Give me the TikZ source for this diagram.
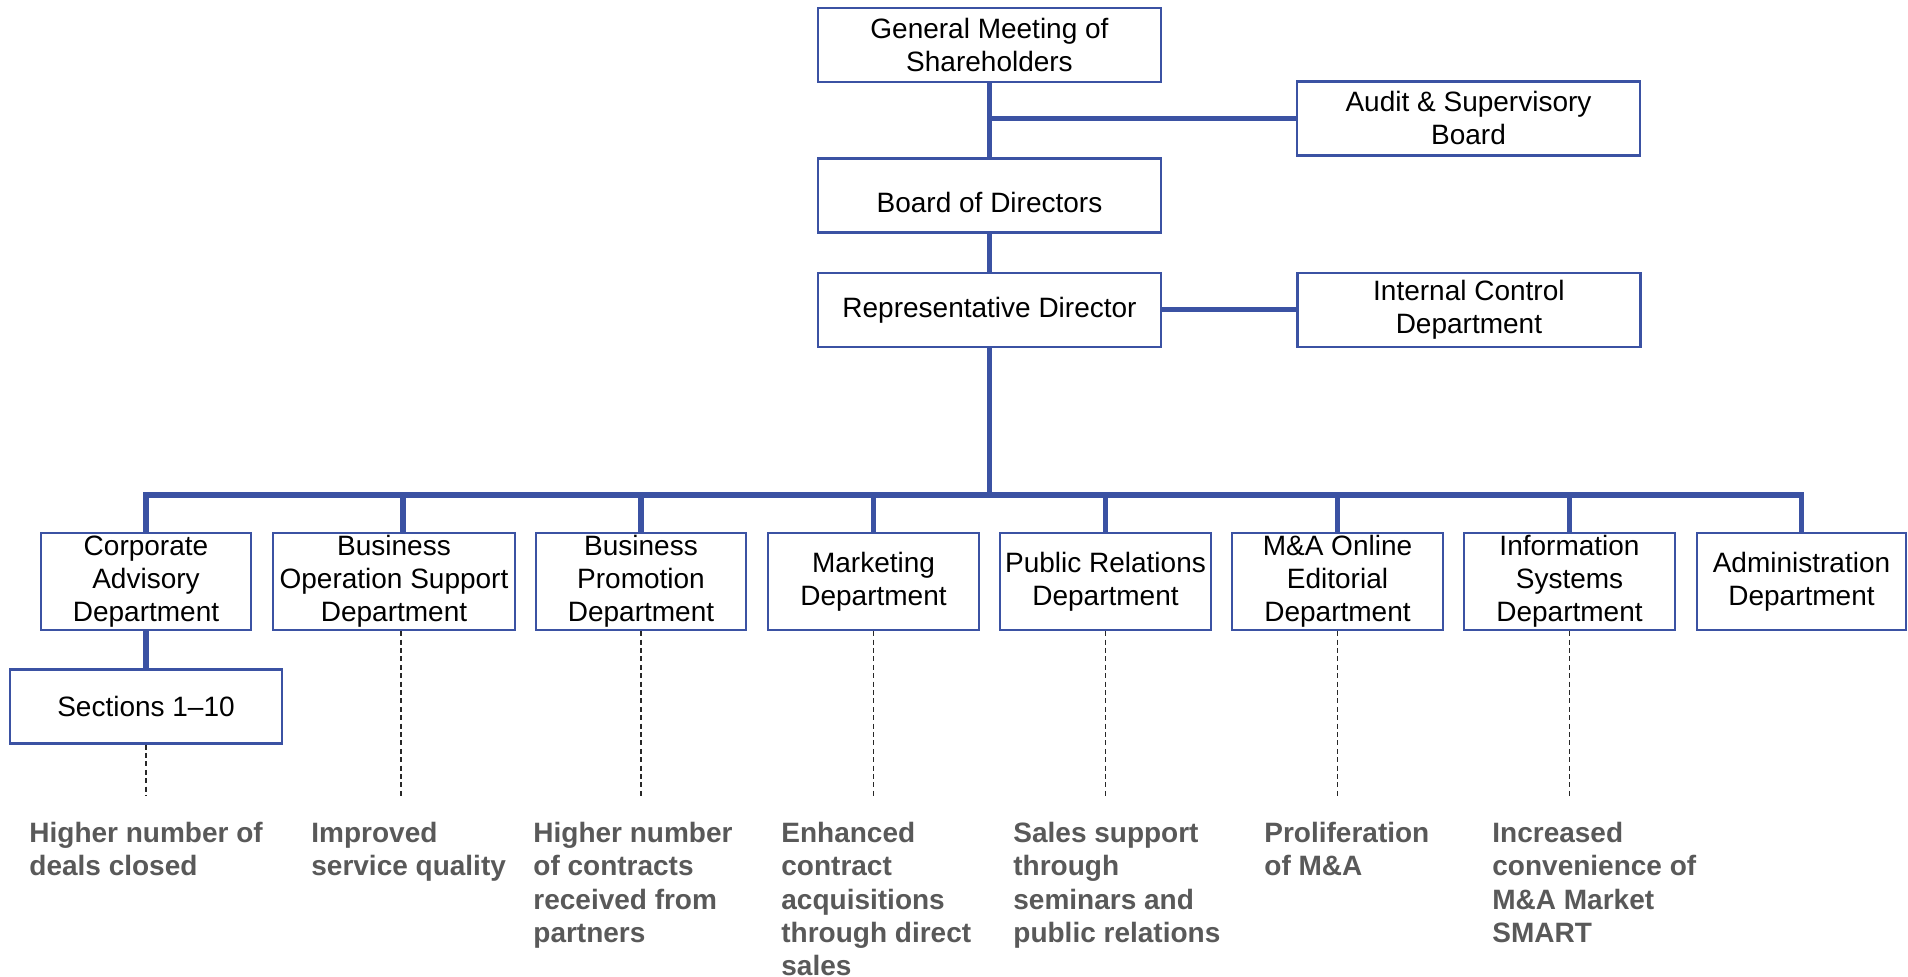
\documentclass[tikz,border=0pt]{standalone}
\usepackage{fontspec}
\setmainfont{Liberation Sans}
\usepackage{tikz}
\usetikzlibrary{positioning}
\definecolor{OrgBlue}{RGB}{59,82,163}
\definecolor{NoteGray}{RGB}{89,89,89}
\definecolor{LeaderGray}{RGB}{40,40,40}

\begin{document}
\begin{tikzpicture} [x=0.5pt, y=-0.5pt, OrgBlue,
	   every node/.style={font=\fontsize{14}{16.5}\selectfont, text=black},
	   orgbox/.style 2 args = {rectangle, draw=OrgBlue, line width=1.2pt,
	                           minimum width=#1, minimum height=#2,
	                           align=center, inner sep=1pt},
	   link/.style = {line width=2.6pt},
	   leader/.style = {LeaderGray, line width=0.8pt, dash pattern=on 2.5pt off 1.7pt},
	   outcome/.style = {anchor=north west, align=left, inner sep=0pt, text=NoteGray,
	                     font=\fontsize{14}{16.6}\selectfont\bfseries}]
	\useasboundingbox (0,0) rectangle (1908,977);

	%% Governing bodies
	\node [orgbox={171.5pt}{37pt}] (gm) at (989.5,45) {General Meeting of\\Shareholders};
	\node [orgbox={171.5pt}{37pt},below=37pt of gm,
	       label={[yshift=-3.5pt]center:Board of Directors}] (bod) {};
	\node [orgbox={171.5pt}{37pt},below=19pt of bod] (rd) {Representative Director};
	\node [orgbox={171.5pt}{37pt}] (audit) at (1468.5,118.5) {Audit \& Supervisory\\Board};
	\node [orgbox={171.5pt}{37pt},right=67pt of rd] (ic) {Internal Control\\Department};

	%% Departments
	\coordinate (busy) at (0,495);
	\node [orgbox={105pt}{48.5pt}] (corp) at (146,581.5) {Corporate\\Advisory\\Department};
	\node [orgbox={121pt}{48.5pt}] (bos) at (394,581.5) {Business\\Operation Support\\Department};
	\node [orgbox={105pt}{48.5pt}] (bp) at (641,581.5) {Business\\Promotion\\Department};
	\node [orgbox={105.5pt}{48.5pt}] (mkt) at (873.5,581.5) {Marketing\\Department};
	\node [orgbox={105.5pt}{48.5pt}] (pr) at (1105.5,581.5) {Public Relations\\Department};
	\node [orgbox={105.5pt}{48.5pt}] (ma) at (1337.5,581.5) {M\&A Online\\Editorial\\Department};
	\node [orgbox={105.5pt}{48.5pt}] (is) at (1569.5,581.5) {Information\\Systems\\Department};
	\node [orgbox={104.5pt}{48.5pt}] (admin) at (1801.5,581.5) {Administration\\Department};
	\node [orgbox={136pt}{37pt},below=18.5pt of corp] (sec) {Sections 1--10};

	%% Outcomes
	\coordinate (outy) at (0,796);
	\node [outcome] (deals) at (29,822) {Higher number of\\deals closed};
	\node [outcome] (quality) at (311,822) {Improved\\service quality};
	\node [outcome] (contracts) at (533,822) {Higher number\\of contracts\\received from\\partners};
	\node [outcome] (acquis) at (781,822) {Enhanced\\contract\\acquisitions\\through direct\\sales};
	\node [outcome] (seminars) at (1013,822) {Sales support\\through\\seminars and\\public relations};
	\node [outcome] (prolif) at (1264,822) {Proliferation\\of M\&A};
	\node [outcome] (smart) at (1492,822) {Increased\\convenience of\\M\&A Market\\SMART};

	%% Reporting lines
	\draw [link] (gm) -- (bod);
	\draw [link] (gm.south |- audit.west) -- (audit.west);
	\draw [link] (bod) -- (rd);
	\draw [link] (rd) -- (ic);
	\draw [link] (rd.south) -- (rd.south |- busy);
	\draw [link] (corp.north) |- (admin.north |- busy) -- (admin.north);
	\draw [link] ([xshift=4.5pt]bos.north) -- ([xshift=4.5pt]bos.north |- busy);
	\draw [link] (bp.north) -- (bp.north |- busy);
	\draw [link] (mkt.north) -- (mkt.north |- busy);
	\draw [link] (pr.north) -- (pr.north |- busy);
	\draw [link] (ma.north) -- (ma.north |- busy);
	\draw [link] (is.north) -- (is.north |- busy);
	\draw [link] (corp) -- (sec);

	%% Leaders to outcomes
	\draw [leader] (sec.south) -- (sec.south |- outy);
	\draw [leader] ([xshift=3.5pt]bos.south) -- ([xshift=3.5pt]bos.south |- outy);
	\draw [leader] (bp.south) -- (bp.south |- outy);
	\draw [leader] (mkt.south) -- (mkt.south |- outy);
	\draw [leader] (pr.south) -- (pr.south |- outy);
	\draw [leader] (ma.south) -- (ma.south |- outy);
	\draw [leader] (is.south) -- (is.south |- outy);
\end{tikzpicture}
\end{document}
